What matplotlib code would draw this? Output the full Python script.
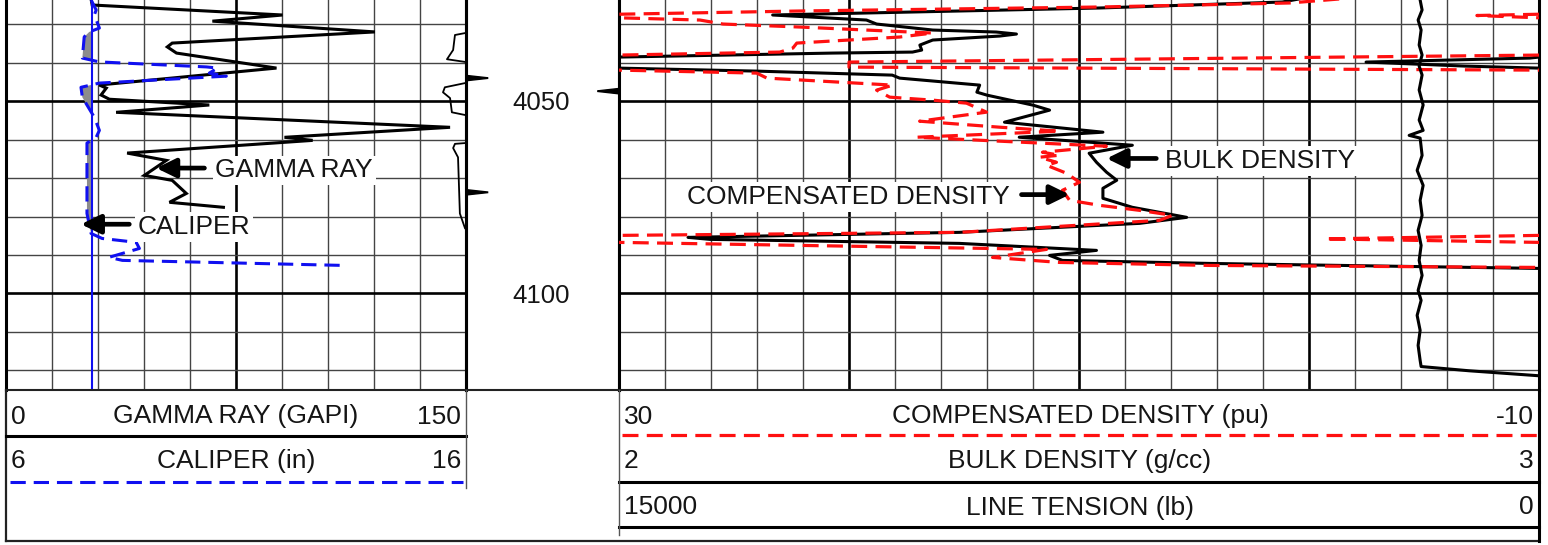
import numpy as np
import matplotlib.pyplot as plt
from matplotlib.transforms import offset_copy

plt.rcParams['font.family'] = ['Liberation Sans', 'DejaVu Sans']

# depth window (ft) shown in the crop
top_depth = 4023.7
bottom_depth = 4125.1
depth_labels = [4050, 4100]

# gamma ray (GAPI)
gr_depth = [4023.7, 4025.0, 4027.6, 4029.2, 4032.0, 4034.9, 4035.9, 4037.5, 4041.4,
            4045.8, 4046.6, 4048.4, 4049.5, 4051.0, 4052.9, 4056.8, 4059.4, 4060.2,
            4063.5, 4065.4, 4069.3, 4070.6, 4074.0, 4076.3, 4077.6]
gr = [27.8, 28.1, 90.2, 67.3, 120.3, 54.2, 52.6, 55.6, 88.2,
      30.4, 32.7, 31.0, 33.7, 66.3, 35.9, 144.8, 90.8, 100.0,
      39.5, 52.3, 45.1, 54.2, 58.8, 53.3, 70.9]

# caliper (in) and bit size
cal_depth = [4023.7, 4026.3, 4027.6, 4031.0, 4032.0, 4033.3, 4038.8, 4039.8, 4041.1,
             4041.4, 4042.7, 4043.5, 4045.3, 4046.4, 4049.0, 4054.2, 4057.6, 4059.4,
             4060.9, 4079.2, 4084.4, 4085.7, 4086.7, 4088.3, 4090.6, 4091.4, 4092.7]
cal = [7.85, 7.96, 7.92, 8.03, 7.81, 7.70, 7.66, 8.03, 10.36,
       10.60, 10.42, 10.79, 8.03, 7.63, 7.66, 7.92, 8.03, 7.96,
       7.76, 7.76, 7.85, 8.09, 8.83, 8.90, 8.24, 8.53, 13.30]
bit_size = 7.875

# unlabelled trace riding on the right edge of the gamma ray track (GAPI scale)
edge_depth = [4023.7, 4032.0, 4032.3, 4032.8, 4036.7, 4039.1, 4039.8, 4040.0,
              4045.0, 4045.3, 4046.4, 4047.7, 4049.2, 4052.9, 4053.6, 4053.8,
              4060.7, 4060.9, 4061.1, 4062.2, 4064.6, 4079.2, 4083.1, 4083.5, 4125.1]
edge_val = [150.5, 150.5, 149.7, 146.4, 145.8, 143.8, 149.7, 150.5,
            150.5, 149.7, 143.1, 142.5, 144.8, 145.4, 149.7, 150.5,
            150.5, 149.7, 146.4, 145.8, 147.4, 148.0, 149.7, 150.5, 150.5]
left_spikes = [4044.0, 4073.7]
right_spikes = [4047.4]

# bulk density (g/cc)
rhob_depth = [4023.44, 4024.22, 4025.78, 4027.60, 4028.91, 4029.95, 4031.51, 4032.03,
              4032.55, 4033.07, 4034.11, 4035.42, 4036.72, 4037.24, 4037.50, 4038.54,
              4038.80, 4039.84, 4040.89, 4041.41, 4042.19, 4043.23, 4044.01, 4045.83,
              4047.66, 4048.44, 4051.04, 4052.34, 4055.47, 4058.07, 4059.38, 4061.46,
              4063.54, 4065.89, 4068.49, 4070.57, 4072.66, 4075.26, 4077.60, 4080.21,
              4081.77, 4084.11, 4085.42, 4085.94, 4086.98, 4088.80, 4090.10, 4091.41,
              4092.19, 4093.49, 4093.75]
rhob = [2.739, 2.721, 2.522, 2.167, 2.269, 2.280, 2.341, 2.410,
        2.432, 2.414, 2.341, 2.327, 2.329, 2.319, 2.232, 2.000,
        1.990, 1.812, 1.920, 2.000, 2.150, 2.297, 2.305, 2.392,
        2.389, 2.400, 2.450, 2.468, 2.419, 2.526, 2.435, 2.558,
        2.511, 2.519, 2.530, 2.541, 2.526, 2.526, 2.558, 2.617,
        2.566, 2.370, 2.075, 2.099, 2.370, 2.519, 2.468, 2.482,
        2.642, 3.000, 3.065]

# compensated density porosity (pu)
cden_depth = [4023.44, 4024.48, 4025.52, 4026.56, 4027.40, 4027.73, 4028.33, 4028.91,
              4029.95, 4030.73, 4032.29, 4033.33, 4034.90, 4036.20, 4037.24, 4038.02,
              4039.84, 4041.15, 4041.93, 4042.71, 4044.01, 4045.83, 4047.14, 4048.96,
              4049.74, 4050.52, 4052.86, 4055.21, 4056.77, 4057.81, 4059.38, 4061.72,
              4063.28, 4064.06, 4064.58, 4065.89, 4066.67, 4068.75, 4071.09, 4073.18,
              4075.78, 4077.08, 4078.39, 4079.69, 4080.99, 4084.11, 4084.90, 4085.81,
              4086.72, 4087.50, 4088.54, 4090.63, 4091.93, 4092.71, 4093.23, 4093.49]
cden = [-1.31, 0.86, 9.11, 22.14, 30.0, 32.7, 30.0, 26.48,
        25.48, 22.14, 16.36, 17.80, 22.27, 22.44, 23.01, 30.0,
        60.0, 60.0, 30.0, 24.01, 23.57, 18.10, 18.80, 18.23,
        16.36, 14.89, 14.02, 16.93, 13.45, 10.85, 17.06, 8.81,
        11.59, 10.85, 11.72, 10.98, 11.41, 10.54, 9.98, 10.72,
        10.41, 9.11, 7.37, 5.94, 6.50, 15.19, 30.0, 39.3,
        30.0, 22.14, 11.41, 13.76, 10.85, 4.33, -10.0, -12.60]

# line tension (lb)
ten_depth = [4023.7, 4026.3, 4028.9, 4031.5, 4035.4, 4038.0, 4039.8, 4040.9, 4043.2,
             4047.1, 4051.0, 4054.9, 4057.6, 4058.9, 4059.6, 4064.1, 4068.0, 4071.9,
             4075.8, 4079.7, 4083.6, 4087.5, 4091.4, 4095.3, 4099.2, 4101.8, 4105.7,
             4109.6, 4113.5, 4117.4, 4119.0, 4120.1, 4121.4, 4121.6]
tension = [1938, 1906, 1971, 1922, 1954, 1906, 1938, 1954, 1906,
           1954, 1889, 1954, 1889, 2117, 1938, 1906, 1987, 1889,
           1938, 1906, 1971, 1922, 1954, 1906, 1971, 1922, 1987,
           1938, 1971, 1938, 1922, 1140, 0, -330]

# curve call-outs: (text, value at arrow tip, value at arrow tail, text anchor, depth)
gr_note = ('GAMMA RAY', 49.0, 64.7, 68.3, 4067.4)
cal_note = ('CALIPER', 7.63, 8.68, 8.86, 4082.0)
cden_note = ('COMPENSATED DENSITY', 10.41, 12.50, 13.02, 4074.3)
rhob_note = ('BULK DENSITY', 2.530, 2.584, 2.593, 4064.9)


W, H = 1548, 545
fig = plt.figure(figsize=(W / 100, H / 100), dpi=100)

BORDER = 2.2
THIN, THICK = 1.0, 1.9
GRID_C = '#444444'
TXT_C = '#151515'
BLUE = '#1010f0'
RED = '#ff1010'
DASH = (0, (5.0, 2.6))
FS = 19


def add_track(x0, x1, y0=0, y1=390):
    return fig.add_axes([x0 / W, 1 - y1 / H, (x1 - x0) / W, (y1 - y0) / H])


def dress(ax, xmin, xmax, ndiv):
    ax.set_xlim(xmin, xmax)
    ax.set_ylim(bottom_depth, top_depth)
    ax.set_xticks([])
    ax.set_yticks([])
    for s in ('top', 'bottom'):
        ax.spines[s].set_visible(False)
    for s in ('left', 'right'):
        ax.spines[s].set_linewidth(BORDER)
    if not ndiv:
        return
    for i, v in enumerate(np.linspace(xmin, xmax, ndiv + 1)[1:-1], start=1):
        major = i % 5 == 0
        ax.axvline(v, color='black' if major else GRID_C,
                   lw=THICK if major else THIN, zorder=0.5)
    for d in range(4030, 4130, 10):
        major = d % 50 == 0
        ax.axhline(d, color='black' if major else GRID_C,
                   lw=THICK if major else THIN, zorder=0.5)


def twin(ax, xmin, xmax):
    t = ax.twiny()
    t.set_xlim(xmin, xmax)
    t.axis('off')
    return t


def callout(ax, note, ha):
    text, tip, tail, anchor, depth = note
    ax.annotate('', xy=(tip, depth), xytext=(tail, depth),
                arrowprops=dict(arrowstyle='-|>,head_length=0.45,head_width=0.22',
                                mutation_scale=26, lw=3.4, color='black',
                                shrinkA=0, shrinkB=0), zorder=6)
    ax.text(anchor, depth, text, fontsize=FS, color=TXT_C, ha=ha, va='baseline',
            transform=offset_copy(ax.transData, fig=fig, y=-9.4, units='dots'),
            bbox=dict(facecolor='white', edgecolor='none', pad=2), zorder=5)


# ---- track 1: gamma ray + caliper
ax_gr = add_track(6, 466)
dress(ax_gr, 0, 150, 10)
ax_gr.plot(edge_val, edge_depth, color='black', lw=1.3, zorder=3)
ax_gr.plot(gr, gr_depth, color='black', lw=2.2, zorder=3, solid_joinstyle='miter')
yt = ax_gr.get_yaxis_transform()
for d in left_spikes:
    ax_gr.fill([1.0, 1.047, 1.047, 1.0], [d - 0.7, d - 0.08, d + 0.08, d + 0.7],
               transform=yt, color='black', clip_on=False, zorder=4)
callout(ax_gr, gr_note, 'left')

ax_cal = twin(ax_gr, 6, 16)
cal_a = np.array(cal)
ax_cal.fill_betweenx(cal_depth, cal_a, bit_size, where=cal_a < bit_size,
                     interpolate=True, color='#8c8c8c', lw=0)
ax_cal.axvline(bit_size, color=BLUE, lw=1.5)
ax_cal.plot(cal, cal_depth, color=BLUE, lw=2.2, ls=DASH)
callout(ax_cal, cal_note, 'left')

# ---- depth track
ax_d = add_track(466, 619)
dress(ax_d, 0, 1, 0)
ax_d.patch.set_visible(False)
for d in depth_labels:
    ax_d.text(0.49, d, str(d), fontsize=18.5, color=TXT_C, ha='center', va='baseline',
              transform=offset_copy(ax_d.get_yaxis_transform(), fig=fig, y=-9.2, units='dots'))

# ---- track 2: densities + tension
ax_r = add_track(619, 1539)
dress(ax_r, 2, 3, 20)
rho = np.array(rhob)
ax_r.plot(rho, rhob_depth, color='black', lw=2.2, zorder=3)
ax_r.plot(np.where(rho <= 2.0, rho + 1, np.nan), rhob_depth, color='black', lw=2.2, zorder=3)
yt_r = ax_r.get_yaxis_transform()
for d in right_spikes:
    ax_r.fill([0.0, -0.023, -0.023, 0.0], [d - 0.7, d - 0.08, d + 0.08, d + 0.7],
              transform=yt_r, color='black', clip_on=False, zorder=4)
callout(ax_r, rhob_note, 'left')

ax_c = twin(ax_r, 30, -10)
cd = np.array(cden)
ax_c.plot(cd, cden_depth, color=RED, lw=2.3, ls=DASH)
ax_c.plot(np.where(cd >= 30, cd - 40, np.nan), cden_depth, color=RED, lw=2.3, ls=DASH)
callout(ax_c, cden_note, 'right')

ax_t = twin(ax_r, 15000, 0)
ax_t.plot(tension, ten_depth, color='black', lw=2.2)

# ---- header panel below the tracks
ov = fig.add_axes([0, 0, 1, 1])
ov.set_xlim(0, W)
ov.set_ylim(H, 0)
ov.axis('off')

ov.plot([6, 1539], [390, 390], color='#222222', lw=1.5)
ov.plot([6, 6], [390, 541], color='#222222', lw=1.6)
ov.plot([6, 1539], [541, 541], color='#222222', lw=1.6)
ov.plot([1539, 1539], [390, 541], color='black', lw=BORDER)

ov.plot([6, 466], [435.5, 435.5], color='black', lw=2.2)
ov.plot([10, 463], [481.5, 481.5], color=BLUE, lw=2.2, ls=DASH)
ov.plot([466, 466], [390, 488], color='#555555', lw=1.0)

ov.plot([622, 1537], [435, 435], color=RED, lw=2.3, ls=DASH)
ov.plot([619, 1539], [481.5, 481.5], color='black', lw=2.2)
ov.plot([619, 1539], [527, 527], color='black', lw=2.2)
ov.plot([619, 619], [390, 535], color='#555555', lw=1.0)

left_rows = [('0', 'GAMMA RAY (GAPI)', '150', 423.5),
             ('6', 'CALIPER (in)', '16', 468)]
right_rows = [('30', 'COMPENSATED DENSITY (pu)', '-10', 423.5),
              ('2', 'BULK DENSITY (g/cc)', '3', 468),
              ('15000', 'LINE TENSION (lb)', '0', 514.5)]

for lo, name, hi, y in left_rows:
    ov.text(11, y, lo, fontsize=FS, color=TXT_C, ha='left', va='baseline')
    ov.text(236, y, name, fontsize=FS, color=TXT_C, ha='center', va='baseline')
    ov.text(461, y, hi, fontsize=FS, color=TXT_C, ha='right', va='baseline')
for lo, name, hi, y in right_rows:
    ov.text(624, y, lo, fontsize=FS, color=TXT_C, ha='left', va='baseline')
    ov.text(1080, y, name, fontsize=FS, color=TXT_C, ha='center', va='baseline')
    ov.text(1534, y, hi, fontsize=FS, color=TXT_C, ha='right', va='baseline')

fig.savefig('out.png', dpi=100, facecolor='white')
